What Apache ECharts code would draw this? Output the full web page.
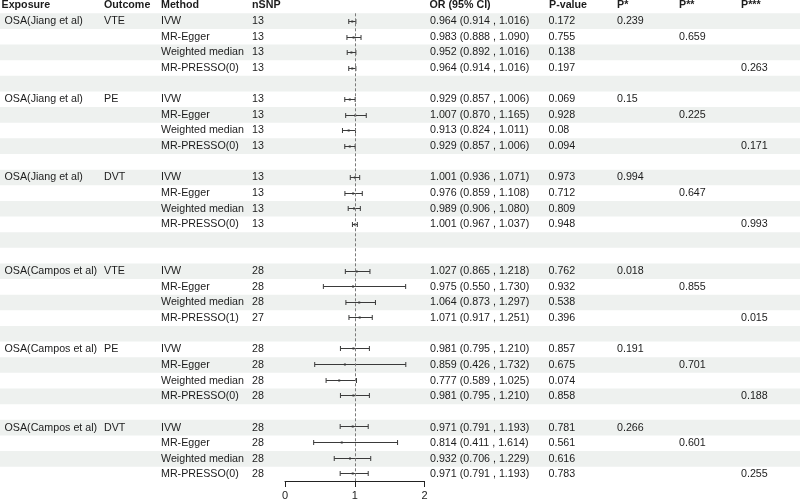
<!DOCTYPE html>
<html>
<head>
<meta charset="utf-8">
<script src="https://cdn.jsdelivr.net/npm/echarts@6/dist/echarts.min.js"></script>
<style>html,body{margin:0;padding:0;background:#fff;}#c{width:800px;height:501px;}</style>
</head>
<body>
<div id="c"></div>
<script>
// ---------- data ----------
const headers = ['Exposure', 'Outcome', 'Method', 'nSNP', 'OR (95% CI)', 'P-value', 'P*', 'P**', 'P***'];
const exposures = ['OSA(Jiang et al)', 'OSA(Jiang et al)', 'OSA(Jiang et al)', 'OSA(Campos et al)', 'OSA(Campos et al)', 'OSA(Campos et al)'];
const outcomes = ['VTE', 'PE', 'DVT', 'VTE', 'PE', 'DVT'];
const methods = [
  'IVW', 'MR-Egger', 'Weighted median', 'MR-PRESSO(0)',
  'IVW', 'MR-Egger', 'Weighted median', 'MR-PRESSO(0)',
  'IVW', 'MR-Egger', 'Weighted median', 'MR-PRESSO(0)',
  'IVW', 'MR-Egger', 'Weighted median', 'MR-PRESSO(1)',
  'IVW', 'MR-Egger', 'Weighted median', 'MR-PRESSO(0)',
  'IVW', 'MR-Egger', 'Weighted median', 'MR-PRESSO(0)'
];
const nsnp = [13, 13, 13, 13, 13, 13, 13, 13, 13, 13, 13, 13, 28, 28, 28, 27, 28, 28, 28, 28, 28, 28, 28, 28];
const orValues = [0.964, 0.983, 0.952, 0.964, 0.929, 1.007, 0.913, 0.929, 1.001, 0.976, 0.989, 1.001,
  1.027, 0.975, 1.064, 1.071, 0.981, 0.859, 0.777, 0.981, 0.971, 0.814, 0.932, 0.971];
const ciLower = [0.914, 0.888, 0.892, 0.914, 0.857, 0.870, 0.824, 0.857, 0.936, 0.859, 0.906, 0.967,
  0.865, 0.550, 0.873, 0.917, 0.795, 0.426, 0.589, 0.795, 0.791, 0.411, 0.706, 0.791];
const ciUpper = [1.016, 1.090, 1.016, 1.016, 1.006, 1.165, 1.011, 1.006, 1.071, 1.108, 1.080, 1.037,
  1.218, 1.730, 1.297, 1.251, 1.210, 1.732, 1.025, 1.210, 1.193, 1.614, 1.229, 1.193];
const pValues = ['0.172', '0.755', '0.138', '0.197', '0.069', '0.928', '0.08', '0.094', '0.973', '0.712', '0.809', '0.948',
  '0.762', '0.932', '0.538', '0.396', '0.857', '0.675', '0.074', '0.858', '0.781', '0.561', '0.616', '0.783'];
const pStar = ['0.239', '0.15', '0.994', '0.018', '0.191', '0.266'];      // IVW rows
const pStar2 = ['0.659', '0.225', '0.647', '0.855', '0.701', '0.601'];    // MR-Egger rows
const pStar3 = ['0.263', '0.171', '0.993', '0.015', '0.188', '0.255'];    // MR-PRESSO rows
const xTicks = [0, 1, 2];

// ---------- layout ----------
const groupStartRows = [1, 6, 11, 17, 22, 27];
const totalRows = 30;
const colX = [4.5, 104, 161, 252, 430, 548.5, 617, 679, 741];
const headerX = [1.5, 104, 161, 252, 429.5, 549, 617, 679, 741];
const FONT = 'Liberation Sans, Arial, Helvetica, sans-serif';
const FS = 10.7;
const TXT = '#1c1c1c';

// build rows
const rows = [];
groupStartRows.forEach((start, g) => {
  for (let k = 0; k < 4; k++) {
    const i = g * 4 + k;
    rows.push({
      row: start + k,
      i: i,
      cells: [
        k === 0 ? exposures[g] : '',
        k === 0 ? outcomes[g] : '',
        methods[i],
        String(nsnp[i]),
        orValues[i].toFixed(3) + ' (' + ciLower[i].toFixed(3) + ' , ' + ciUpper[i].toFixed(3) + ')',
        pValues[i],
        k === 0 ? pStar[g] : '',
        k === 1 ? pStar2[g] : '',
        k === 3 ? pStar3[g] : ''
      ]
    });
  }
});

const cells = [];
headers.forEach((h, c) => cells.push({ x: headerX[c], row: 0, text: h, bold: true }));
rows.forEach(r => r.cells.forEach((t, c) => { if (t) cells.push({ x: colX[c], row: r.row, text: t, bold: false }); }));

const stripeRows = [];
for (let r = 1; r <= totalRows; r += 2) stripeRows.push(r);

const chart = echarts.init(document.getElementById('c'), null, { renderer: 'canvas' });
const gridTop = 13.3, gridBottom = 18.7;
const yAx = (gi) => ({ type: 'value', gridIndex: gi, min: 0.5, max: totalRows + 0.5, inverse: true, show: false });

chart.setOption({
  animation: false,
  backgroundColor: '#fff',
  grid: [
    { left: 0, right: 0, top: gridTop, bottom: gridBottom },
    { left: 285, right: 375.5, top: gridTop, bottom: gridBottom }
  ],
  xAxis: [
    { type: 'value', gridIndex: 0, min: 0, max: 800, show: false },
    {
      type: 'value', gridIndex: 1, min: xTicks[0], max: xTicks[xTicks.length - 1], interval: 1,
      axisLine: { show: true, lineStyle: { color: '#222', width: 1 } },
      axisTick: { show: true, length: 6, lineStyle: { color: '#222', width: 1 } },
      axisLabel: { show: true, margin: 9, color: '#1c1c1c', fontSize: 11, fontFamily: FONT },
      splitLine: { show: false }
    }
  ],
  yAxis: [yAx(0), yAx(1)],
  series: [
    {
      type: 'custom', xAxisIndex: 0, yAxisIndex: 0, z: 1, silent: true,
      data: stripeRows.map(r => [0, r]),
      renderItem: function (params, api) {
        const r = api.value(1);
        const p0 = api.coord([0, r - 0.5]);
        const p1 = api.coord([800, r + 0.5]);
        return { type: 'rect', shape: { x: p0[0], y: p0[1], width: p1[0] - p0[0], height: p1[1] - p0[1] }, style: { fill: '#eef1ef' } };
      }
    },
    {
      type: 'custom', xAxisIndex: 0, yAxisIndex: 0, z: 5, silent: true,
      data: cells.map(c => [0, c.row]),
      renderItem: function (params, api) {
        const c = cells[params.dataIndex];
        const y = api.coord([0, c.row])[1];
        return {
          type: 'text', x: c.x, y: y,
          style: { text: c.text, fill: TXT, font: (c.bold ? 'bold ' : '') + FS + 'px ' + FONT, textAlign: 'left', textVerticalAlign: 'middle' }
        };
      }
    },
    {
      type: 'custom', xAxisIndex: 1, yAxisIndex: 1, z: 4, silent: true, clip: false,
      data: rows.map(r => [orValues[r.i], r.row, ciLower[r.i], ciUpper[r.i]]),
      renderItem: function (params, api) {
        const row = api.value(1);
        const pe = api.coord([api.value(0), row]);
        const lo = api.coord([api.value(2), row]);
        const hi = api.coord([api.value(3), row]);
        const y = Math.round(pe[1]) + 0.5;
        const st = { stroke: '#3a3a3a', lineWidth: 1 };
        return {
          type: 'group', children: [
            { type: 'line', shape: { x1: lo[0], y1: y, x2: hi[0], y2: y }, style: st },
            { type: 'line', shape: { x1: lo[0], y1: y - 2.5, x2: lo[0], y2: y + 2.5 }, style: st },
            { type: 'line', shape: { x1: hi[0], y1: y - 2.5, x2: hi[0], y2: y + 2.5 }, style: st },
            { type: 'rect', shape: { x: pe[0] - 1, y: y - 1, width: 2, height: 2 }, style: { fill: '#3a3a3a' } }
          ]
        };
      },
      markLine: {
        silent: true, symbol: 'none', label: { show: false },
        lineStyle: { color: '#7a7a7a', type: [3, 2], width: 1 },
        data: [{ xAxis: 1 }]
      }
    }
  ]
});
</script>
</body>
</html>
